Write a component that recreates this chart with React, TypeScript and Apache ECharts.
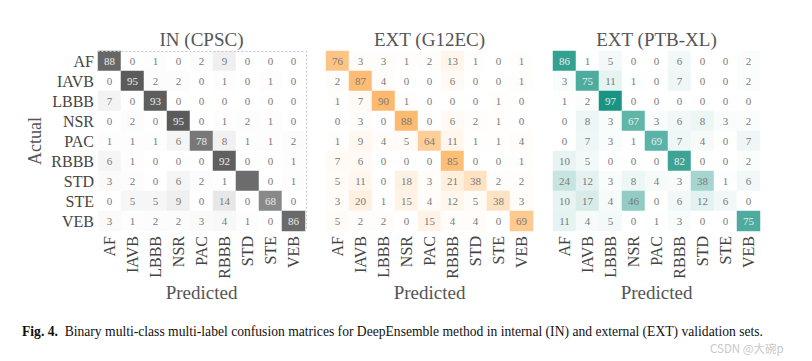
import React, { useEffect, useRef } from "react";
import * as echarts from "echarts";

const classes = ["AF", "IAVB", "LBBB", "NSR", "PAC", "RBBB", "STD", "STE", "VEB"];

const titles = ["IN (CPSC)", "EXT (G12EC)", "EXT (PTB-XL)"];

const inCpsc = [
  [88, 0, 1, 0, 2, 9, 0, 0, 0],
  [0, 95, 2, 2, 0, 1, 0, 1, 0],
  [7, 0, 93, 0, 0, 0, 0, 0, 0],
  [0, 2, 0, 95, 0, 1, 2, 1, 0],
  [1, 1, 1, 6, 78, 8, 1, 1, 2],
  [6, 1, 0, 0, 0, 92, 0, 0, 1],
  [3, 2, 0, 6, 2, 1, 85, 0, 1],
  [0, 5, 5, 9, 0, 14, 0, 68, 0],
  [3, 1, 2, 2, 3, 4, 1, 0, 86],
];

const extG12ec = [
  [76, 3, 3, 1, 2, 13, 1, 0, 1],
  [2, 87, 4, 0, 0, 6, 0, 0, 1],
  [1, 7, 90, 1, 0, 0, 0, 1, 0],
  [0, 3, 0, 88, 0, 6, 2, 1, 0],
  [1, 9, 4, 5, 64, 11, 1, 1, 4],
  [7, 6, 0, 0, 0, 85, 0, 0, 1],
  [5, 11, 0, 18, 3, 21, 38, 2, 2],
  [3, 20, 1, 15, 4, 12, 5, 38, 3],
  [5, 2, 2, 0, 15, 4, 4, 0, 69],
];

const extPtbxl = [
  [86, 1, 5, 0, 0, 6, 0, 0, 2],
  [3, 75, 11, 1, 0, 7, 0, 0, 2],
  [1, 2, 97, 0, 0, 0, 0, 0, 0],
  [0, 8, 3, 67, 3, 6, 8, 3, 2],
  [0, 7, 3, 1, 69, 7, 4, 0, 7],
  [10, 5, 0, 0, 0, 82, 0, 0, 2],
  [24, 12, 3, 8, 4, 3, 38, 1, 6],
  [10, 17, 4, 46, 0, 6, 12, 6, 0],
  [11, 4, 5, 0, 1, 3, 0, 0, 75],
];

// cells whose number is not printed in the figure: [matrix, row, col]
const hiddenLabels = [[0, 6, 6]];

const matrices = [inCpsc, extG12ec, extPtbxl];
const palettes = [
  ["#ffffff", "#525252"],
  ["#ffffff", "#fdb25e"],
  ["#ffffff", "#12907e"],
];
const lightTextThreshold = [50, 1000, 50];

const SERIF = "Liberation Serif";

export default function App() {
  const ref = useRef<HTMLDivElement>(null);
  useEffect(() => {
    if (!ref.current) return;
    const chart = echarts.init(ref.current, null, { renderer: "svg" });
    const lefts = [98, 326, 553];
    const gridW = 207;
    const gridTop = 51;
    const gridH = 180;

    const grids = lefts.map((l) => ({ left: l, top: gridTop, width: gridW, height: gridH }));

    const xAxes: any[] = [];
    const yAxes: any[] = [];
    lefts.forEach((_, i) => {
      xAxes.push({
        type: "category",
        gridIndex: i,
        data: classes,
        position: "bottom",
        name: "Predicted",
        nameLocation: "middle",
        nameGap: 52,
        nameTextStyle: { fontFamily: SERIF, fontSize: 19, color: "#555" },
        axisLine: { show: false },
        axisTick: { show: false },
        splitLine: { show: false },
        axisLabel: {
          rotate: 90,
          margin: 5,
          fontFamily: SERIF,
          fontSize: 16,
          color: "#444",
          interval: 0,
        },
      });
      yAxes.push({
        type: "category",
        gridIndex: i,
        data: classes,
        inverse: true,
        name: i === 0 ? "Actual" : "",
        nameLocation: "middle",
        nameGap: 54,
        nameTextStyle: { fontFamily: SERIF, fontSize: 18, color: "#555" },
        axisLine: { show: false },
        axisTick: { show: false },
        splitLine: { show: false },
        axisLabel: {
          show: i === 0,
          margin: 4,
          fontFamily: SERIF,
          fontSize: 16,
          color: "#444",
          interval: 0,
        },
      });
    });
    // dotted frame on top and right of first matrix
    xAxes.push({
      type: "category",
      gridIndex: 0,
      data: classes,
      position: "top",
      offset: 0,
      z: 5,
      axisLine: { show: true, lineStyle: { color: "#c4c4c4", type: [1, 3], width: 1.2 } },
      axisTick: { show: false },
      axisLabel: { show: false },
    });
    yAxes.push({
      type: "category",
      gridIndex: 0,
      data: classes,
      inverse: true,
      position: "right",
      offset: 1,
      z: 5,
      axisLine: { show: true, lineStyle: { color: "#c4c4c4", type: [1, 3], width: 1.2 } },
      axisTick: { show: false },
      axisLabel: { show: false },
    });

    const series = matrices.map((m, k) => {
      const data: any[] = [];
      m.forEach((row, r) => {
        row.forEach((v, c) => {
          const hidden = hiddenLabels.some((h) => h[0] === k && h[1] === r && h[2] === c);
          data.push({
            value: [c, r, v],
            label: {
              show: !hidden,
              color: v > lightTextThreshold[k] ? "#ececec" : "#7a7a7a",
            },
          });
        });
      });
      return {
        type: "heatmap",
        xAxisIndex: k,
        yAxisIndex: k,
        data,
        label: {
          show: true,
          fontFamily: SERIF,
          fontSize: 11,
          formatter: (p: any) => String(p.value[2]),
        },
        itemStyle: { borderWidth: 0 },
        emphasis: { disabled: true },
      };
    });

    const visualMap = matrices.map((_, k) => ({
      type: "continuous",
      show: false,
      seriesIndex: k,
      dimension: 2,
      min: 0,
      max: 100,
      inRange: { color: palettes[k] },
    }));

    const centers = lefts.map((l) => l + gridW / 2);

    chart.setOption({
      animation: false,
      backgroundColor: "#ffffff",
      textStyle: { fontFamily: SERIF },
      grid: grids,
      xAxis: xAxes,
      yAxis: yAxes,
      visualMap,
      series,
      graphic: [
        ...titles.map((t, i) => ({
          type: "text",
          x: centers[i],
          y: 30,
          style: {
            text: t,
            fontFamily: SERIF,
            fontSize: 19,
            fill: "#555",
            align: "center",
            verticalAlign: "top",
          },
        })),
        {
          type: "text",
          x: 22,
          y: 324,
          style: {
            rich: {
              b: { fontFamily: SERIF, fontSize: 13.6, fontWeight: "bold", fill: "#111" },
              n: { fontFamily: SERIF, fontSize: 13.6, fill: "#111" },
            },
            text:
              "{b|Fig. 4.}{n|  Binary multi-class multi-label confusion matrices for DeepEnsemble method in internal (IN) and external (EXT) validation sets.}",
          },
        },
        {
          type: "text",
          x: 710,
          y: 342,
          style: {
            text: "CSDN @大碗p",
            fontFamily: "Noto Sans CJK SC",
            fontSize: 11.5,
            fill: "#c8c8c8",
          },
        },
      ],
    });
    return () => chart.dispose();
  }, []);
  return <div ref={ref} style={{ width: 812, height: 361, position: "absolute", left: 0, top: 0 }} />;
}
